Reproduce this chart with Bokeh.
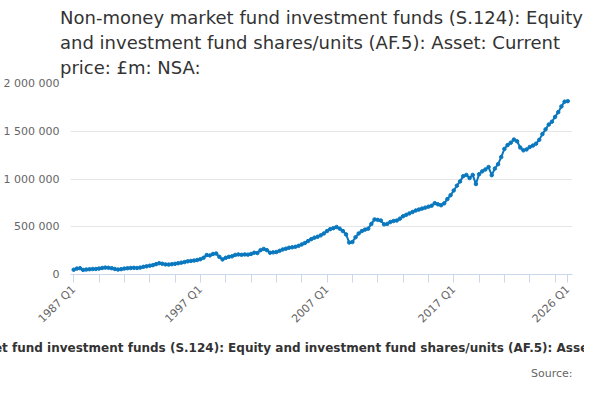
from bokeh.plotting import figure
from bokeh.models import Title, FixedTicker, ColumnDataSource
from bokeh.embed import file_html
from bokeh.resources import INLINE

years = list(range(1987, 2027))
values_k = [
 50,62,66,48, 52,55,57,58, 62,68,72,70, 66,58,52,56, 62,66,68,70,
 68,72,80,86, 92,98,108,118, 112,106,104,108, 112,118,124,130, 138,142,146,152,
 160,175,204,200, 215,220,185,158, 175,185,190,205, 210,206,210,208,
 215,228,225,255, 268,255,228,232, 235,248,262,270, 280,285,290,300,
 315,330,350,370, 385,395,410,430, 455,475,485,497, 480,455,420,335,
 340,390,430,455, 470,480,530,577, 572,565,525,530, 550,560,565,585,
 610,625,640,655, 670,680,690,700, 710,720,747,735, 725,745,790,830,
 880,930,975,1030, 1043,1010,1043,947, 1050,1080,1100,1125, 1040,1110,1155,1230,
 1315,1355,1380,1413, 1395,1330,1300,1310, 1335,1350,1370,1410, 1470,1520,1570,1600,
 1650,1700,1760,1810, 1815]
values = [v * 1000 for v in values_k]
labels = [f"{y} Q{q}" for y in years for q in range(1, 5)][:len(values)]
x = list(range(len(values)))
yticks = [0, 500000, 1000000, 1500000, 2000000]
ytick_labels = ["0", "500 000", "1 000 000", "1 500 000", "2 000 000"]
label_idx = [0, 40, 80, 120, 156]

title_text = ("Non-money market fund investment funds (S.124): Equity\n"
              "and investment fund shares/units (AF.5): Asset: Current\n"
              "price: £m: NSA:")
footer = "Non-money market fund investment funds (S.124): Equity and investment fund shares/units (AF.5): Asset: Current price: £m: NSA:"

p = figure(width=584, height=384, output_backend="svg", toolbar_location=None,
           x_range=(-1, 157.5), y_range=(0, 2000000))
src = ColumnDataSource(dict(x=x, y=values))
p.line("x", "y", source=src, line_color="#0a78be", line_width=2)
p.scatter("x", "y", source=src, size=3.5, color="#0a78be")

ticks = list(range(0, 157, 8)) + [156]
p.xaxis.ticker = FixedTicker(ticks=ticks)
p.xaxis.major_label_overrides = {i: (labels[i] if i in label_idx else "") for i in ticks}
p.xaxis.major_label_orientation = 0.785
p.xaxis.axis_line_color = "#ccd6eb"
p.xaxis.major_tick_line_color = "#ccd6eb"
p.xaxis.major_tick_out = 8
p.xaxis.major_tick_in = 0
p.xaxis.minor_tick_line_color = None
p.xaxis.major_label_text_color = "#666666"
p.xaxis.major_label_text_font_size = "11px"
p.xaxis.major_label_text_font = "DejaVu Sans"

p.yaxis.ticker = FixedTicker(ticks=yticks)
p.yaxis.major_label_overrides = dict(zip(yticks, ytick_labels))
p.yaxis.axis_line_color = None
p.yaxis.major_tick_line_color = None
p.yaxis.minor_tick_line_color = None
p.yaxis.major_label_text_color = "#666666"
p.yaxis.major_label_text_font_size = "11px"
p.yaxis.major_label_text_font = "DejaVu Sans"

p.xgrid.grid_line_color = None
p.ygrid.grid_line_color = "#e6e6e6"
p.outline_line_color = None
p.min_border_right = 12
p.min_border_left = 10

p.title = Title(text=title_text, align="center", text_font_size="18px", text_color="#333333",
                text_font="DejaVu Sans", text_font_style="normal", text_line_height=1.2)
p.add_layout(Title(text=footer, align="center", text_font_size="12px", text_color="#333333",
                   text_font="DejaVu Sans", text_font_style="bold"), "below")
p.add_layout(Title(text="Source:", align="right", text_font_size="11px", text_color="#666666",
                   text_font="DejaVu Sans", text_font_style="normal"), "below")

open("out.html", "w").write(file_html(p, INLINE))
